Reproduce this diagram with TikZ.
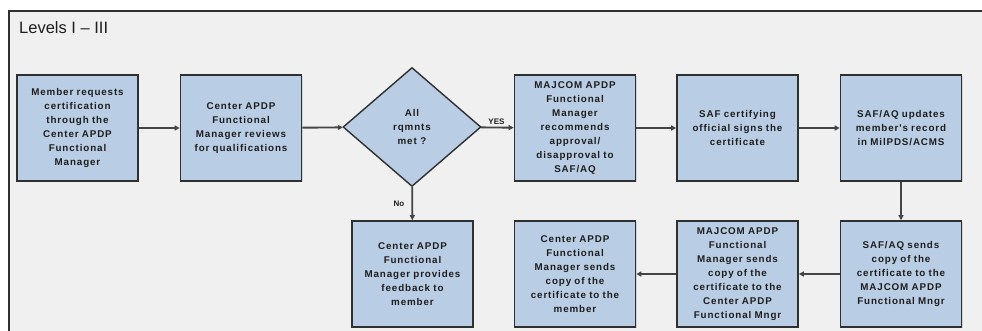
\documentclass[tikz,border=0pt]{standalone}
\usepackage{fontspec}
\setmainfont{Liberation Sans}
\newfontfamily\boxfont{Liberation Sans}[LetterSpace=9]
\usetikzlibrary{shapes.geometric,arrows.meta,shadows}
\definecolor{bgc}{HTML}{F0F0F0}
\definecolor{boxc}{HTML}{B9CDE5}
\definecolor{edgec}{HTML}{303030}
\definecolor{linec}{HTML}{454545}
\definecolor{txtc}{HTML}{1E1E1E}
\tikzset{
  procbox/.style={draw=edgec, fill=boxc, line width=1.6pt, minimum width=121pt, minimum height=106pt,
    inner sep=0pt, text width=118pt, align=center, text=txtc,
    font=\boxfont\bfseries\fontsize{9.8}{14}\selectfont,
    drop shadow={shadow xshift=1pt, shadow yshift=-1pt, opacity=0.25}},
  decision/.style={diamond, aspect=1.16, draw=edgec, fill=boxc, line width=1.4pt, minimum width=138pt,
    minimum height=119pt, inner sep=0pt, align=center, text=txtc,
    font=\boxfont\bfseries\fontsize{9.8}{14}\selectfont},
  conn/.style={draw=linec, line width=1.9pt, -{Triangle[length=5pt,width=5pt]}},
  lbl/.style={font=\bfseries\fontsize{8}{9}\selectfont, text=txtc, inner sep=1pt}
}
\begin{document}
\begin{tikzpicture}[x=1pt,y=-1pt]
\useasboundingbox (0,0) rectangle (982,331);
\clip (0,0) rectangle (982,331);
\fill[white] (0,0) rectangle (982,331);
\draw[fill=bgc, draw=edgec, line width=2pt] (9,11) rectangle (1000,350);
\node[anchor=west, text=txtc, font=\fontsize{16.5}{19}\selectfont, inner sep=0pt] (title) at (19,28) {Levels I -- III};

\node[procbox] (b1) at (77.5,128) {Member requests\\certification\\through the\\Center APDP\\Functional\\Manager};
\node[procbox] (b2) at (241,128) {Center APDP\\Functional\\Manager reviews\\for qualifications};
\node[decision] (d) at (412,127) {All\\rqmnts\\met ?};
\node[procbox] (b3) at (575,128) {MAJCOM APDP\\Functional\\Manager\\recommends\\approval/\\disapproval to\\SAF/AQ};
\node[procbox] (b4) at (737.5,128) {SAF certifying\\official signs the\\certificate};
\node[procbox] (b5) at (901,128) {SAF/AQ updates\\member's record\\in MilPDS/ACMS};

\node[procbox] (b9) at (412.5,274) {Center APDP\\Functional\\Manager provides\\feedback to\\member};
\node[procbox] (b8) at (575,274) {Center APDP\\Functional\\Manager sends\\copy of the\\certificate to the\\member};
\node[procbox] (b7) at (737.5,274) {MAJCOM APDP\\Functional\\Manager sends\\copy of the\\certificate to the\\Center APDP\\Functional Mngr};
\node[procbox] (b6) at (901,274) {SAF/AQ sends\\copy of the\\certificate to the\\MAJCOM APDP\\Functional Mngr};

\draw[conn] (b1) -- (b2);
\draw[conn] (b2) -- (d);
\draw[conn] (d) -- node[lbl, midway, above=1pt, xshift=-1pt] {YES} (b3);
\draw[conn] (d) -- node[lbl, midway, left=6pt] {No} (b9);
\draw[conn] (b3) -- (b4);
\draw[conn] (b4) -- (b5);
\draw[conn] (b5) -- (b6);
\draw[conn] (b6) -- (b7);
\draw[conn] (b7) -- (b8);
\end{tikzpicture}
\end{document}
